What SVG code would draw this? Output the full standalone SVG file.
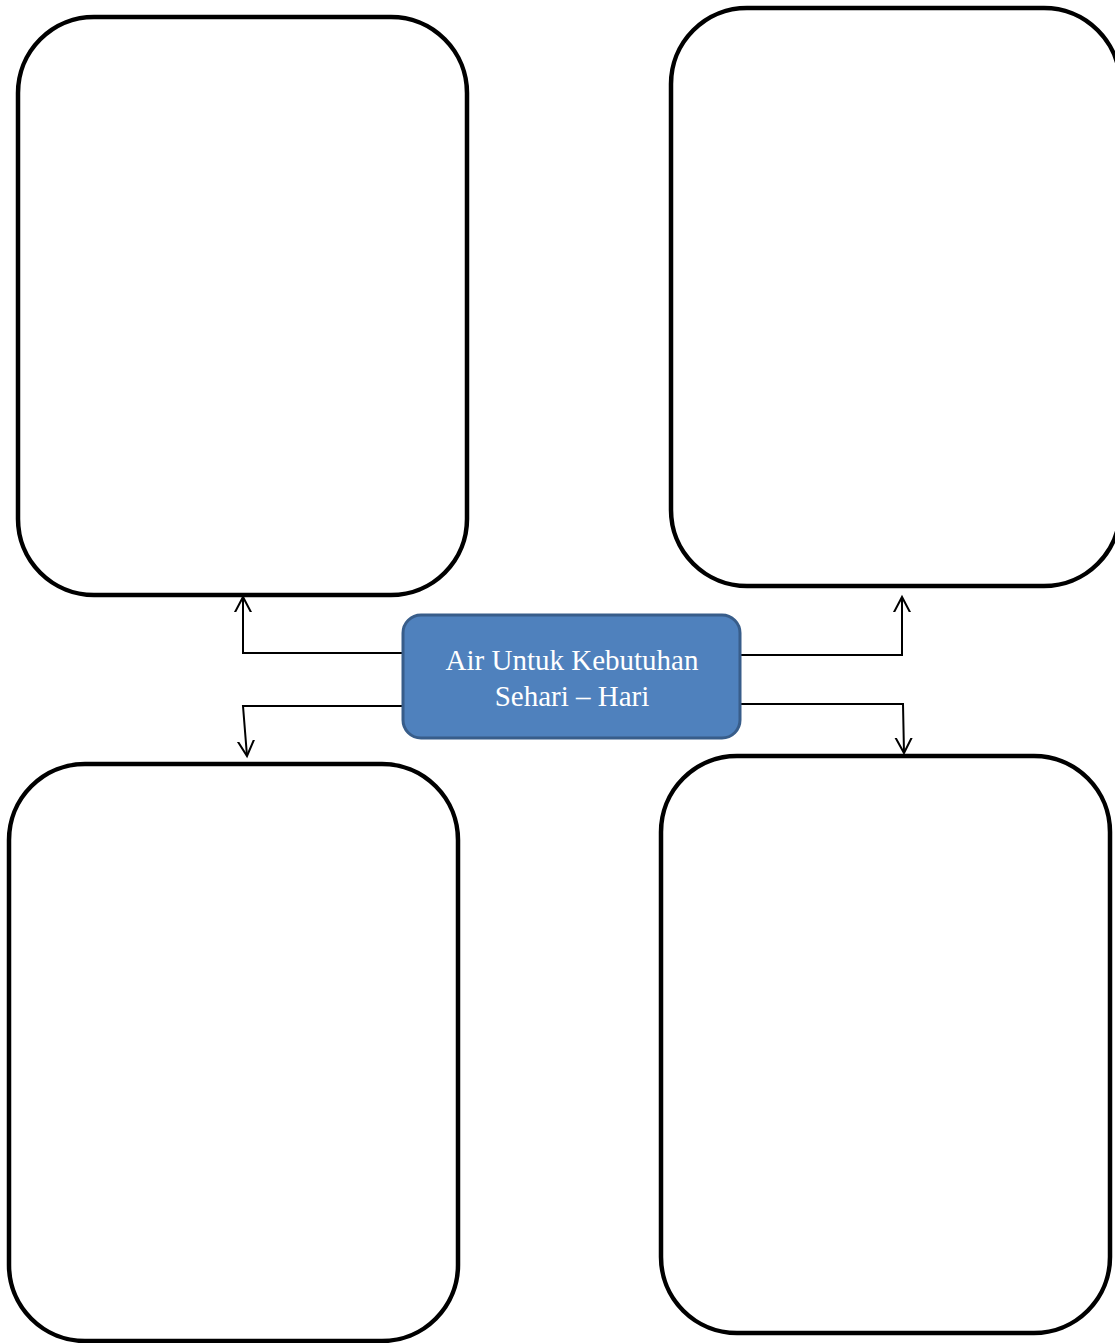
<svg xmlns="http://www.w3.org/2000/svg" width="1115" height="1343" viewBox="0 0 1115 1343">
<style>
.box{fill:#fff;stroke:#000;stroke-width:4.5}
.conn{fill:none;stroke:#000;stroke-width:2}
.lbl{font-family:"Liberation Serif",serif;font-size:29px;fill:#fff;text-anchor:middle}
</style>
<defs>
<marker id="arr" markerWidth="30" markerHeight="30" refX="15" refY="15" orient="auto" markerUnits="userSpaceOnUse">
<path d="M-4,5 L15,15 L-4,25" fill="none" stroke="#000" stroke-width="2"/>
</marker>
</defs>
<rect width="1115" height="1343" fill="#fff"/>
<g id="box-top-left"><rect class="box" x="18" y="17" width="449" height="578" rx="76" ry="76"/></g>
<g id="box-top-right"><rect class="box" x="671" y="8" width="449" height="578" rx="76" ry="76"/></g>
<g id="box-bottom-left"><rect class="box" x="9" y="764" width="449" height="577" rx="76" ry="76"/></g>
<g id="box-bottom-right"><rect class="box" x="661" y="756" width="449" height="577" rx="76" ry="76"/></g>
<g id="connectors">
<path class="conn" d="M403,653 L243,653 L243,597" marker-end="url(#arr)"/>
<path class="conn" d="M403,706 L243,706 L247,756" marker-end="url(#arr)"/>
<path class="conn" d="M740,655 L902,655 L902,597" marker-end="url(#arr)"/>
<path class="conn" d="M740,704 L903,704 L904,753" marker-end="url(#arr)"/>
</g>
<g id="center">
<rect x="403" y="615" width="337" height="123" rx="18" ry="18" fill="#4F81BD" stroke="#385D8A" stroke-width="3"/>
<text class="lbl" x="572" y="670">Air Untuk Kebutuhan</text>
<text class="lbl" x="572" y="706">Sehari – Hari</text>
</g>
</svg>
